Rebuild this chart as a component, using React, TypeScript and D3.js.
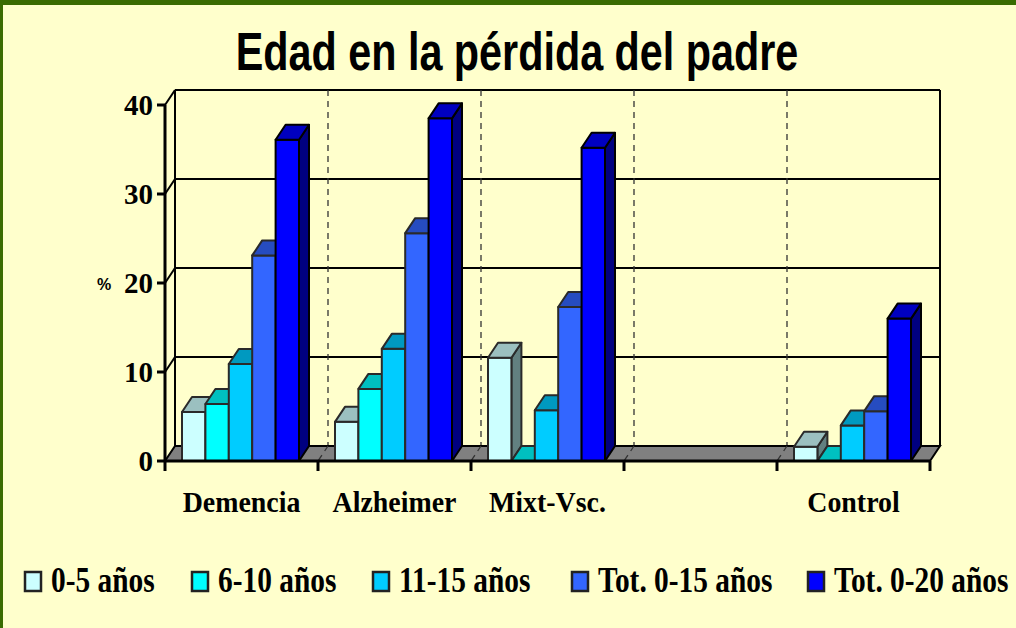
import React from 'react';
import * as d3 from 'd3';

// chart data
const categories = ['Demencia', 'Alzheimer', 'Mixt-Vsc.', '', 'Control'];
const seriesNames = ['0-5 años', '6-10 años', '11-15 años', 'Tot. 0-15 años', 'Tot. 0-20 años'];
const age0to5 = [5.5, 4.4, 11.6, null, 1.6];
const age6to10 = [6.4, 8.1, 0, null, 0];
const age11to15 = [10.9, 12.6, 5.7, null, 4.0];
const tot0to15 = [23.1, 25.6, 17.3, null, 5.6];
const tot0to20 = [36.1, 38.5, 35.2, null, 16.0];
const yTicks = [0, 10, 20, 30, 40];

const seriesValues = [age0to5, age6to10, age11to15, tot0to15, tot0to20];

// front / top / side face colours
const faceColors = [
    {front: '#CCFFFF', top: '#9BC0C0', side: '#628080'},
    {front: '#00FFFF', top: '#00C0C0', side: '#008080'},
    {front: '#00CCFF', top: '#0099C0', side: '#006A8A'},
    {front: '#3366FF', top: '#264CC0', side: '#1A3380'},
    {front: '#0000FF', top: '#0000C0', side: '#000080'},
];

const legendX = [25, 192, 373, 572, 808];

const W = 1016;
const H = 628;
const DX = 10;
const DY = -15;

const pts = (p: number[][]) => p.map(d => d.join(',')).join(' ');

const App = () => {
    const x = d3.scaleBand<number>()
        .domain(d3.range(categories.length))
        .range([165, 930])
        .padding(0);

    const y = d3.scaleLinear()
        .domain([0, 40])
        .range([461, 105]);

    const inner = d3.scaleBand<number>()
        .domain(d3.range(seriesNames.length))
        .range([17, 134])
        .padding(0);

    const y0 = y(0);
    const yTop = y(40);
    const xL = x.range()[0];
    const xR = x.range()[1];
    const boundaries = d3.range(categories.length + 1).map(i => xL + i * x.bandwidth());

    const bars: JSX.Element[] = [];
    categories.forEach((c, ci) => {
        seriesValues.forEach((vals, si) => {
            const v = vals[ci];
            if (v === null) return;
            const bx = (x(ci) as number) + (inner(si) as number);
            const bw = inner.bandwidth();
            const yt = y(v);
            const col = faceColors[si];
            const stroke = si === 4 ? '#000' : '#2a2a2a';
            bars.push(
                <g key={`${ci}-${si}`} stroke={stroke} strokeWidth={2} strokeLinejoin="round">
                    <polygon points={pts([[bx + bw, yt], [bx + bw + DX, yt + DY], [bx + bw + DX, y0 + DY], [bx + bw, y0]])} fill={col.side}/>
                    <rect x={bx} y={yt} width={bw} height={y0 - yt} fill={col.front}/>
                    <polygon points={pts([[bx, yt], [bx + bw, yt], [bx + bw + DX, yt + DY], [bx + DX, yt + DY]])} fill={col.top}/>
                </g>
            );
        });
    });

    return (
        <svg width={W} height={H} style={{position: 'fixed', left: 0, top: 0}}>
            <rect width={W} height={H} fill="#FFFFCC"/>
            <rect width={W} height={5} fill="#3A6B00"/>
            <rect width={3} height={H} fill="#3A6B00"/>

            <text transform="translate(517,70) scale(0.78,1)" textAnchor="middle"
                  fontFamily="Liberation Sans, Arial" fontWeight="bold" fontSize={53}>
                Edad en la pérdida del padre
            </text>

            {/* back wall gridlines */}
            {yTicks.filter(t => t > 0).map(t => (
                <g key={t} stroke="#000" strokeWidth={2}>
                    <line x1={xL + DX} x2={xR + DX} y1={y(t) + DY} y2={y(t) + DY}/>
                    <line x1={xL} x2={xL + DX} y1={y(t)} y2={y(t) + DY}/>
                </g>
            ))}
            <line x1={xL + DX} x2={xL + DX} y1={yTop + DY} y2={y0 + DY} stroke="#000" strokeWidth={2}/>
            <line x1={xR + DX} x2={xR + DX} y1={yTop + DY} y2={y0 + DY} stroke="#000" strokeWidth={2}/>

            {/* dashed category separators */}
            {boundaries.slice(1, -1).map((bx, i) => (
                <line key={i} x1={bx + DX} x2={bx + DX} y1={yTop + DY} y2={y0 + DY}
                      stroke="#333" strokeWidth={1.3} strokeDasharray="6,5"/>
            ))}

            {/* floor */}
            <polygon points={pts([[xL, y0], [xR, y0], [xR + DX, y0 + DY], [xL + DX, y0 + DY]])}
                     fill="#808080" stroke="#000" strokeWidth={2}/>
            {boundaries.slice(1, -1).map((bx, i) => (
                <line key={i} x1={bx + DX} x2={bx} y1={y0 + DY} y2={y0}
                      stroke="#333" strokeWidth={1.3} strokeDasharray="6,5"/>
            ))}

            {bars}

            {/* front axes */}
            <line x1={xL} x2={xL} y1={yTop} y2={y0} stroke="#000" strokeWidth={3}/>
            <line x1={xL - 1} x2={xR} y1={y0} y2={y0} stroke="#000" strokeWidth={3}/>
            {yTicks.map(t => (
                <g key={t}>
                    <line x1={xL - 8} x2={xL} y1={y(t)} y2={y(t)} stroke="#000" strokeWidth={3}/>
                    <text x={xL - 12} y={y(t)} dy="0.35em" textAnchor="end"
                          fontFamily="Liberation Serif, Times New Roman" fontWeight="bold" fontSize={29}>
                        {t}
                    </text>
                </g>
            ))}
            {boundaries.map((bx, i) => (
                <line key={i} x1={bx} x2={bx} y1={y0} y2={y0 + 10} stroke="#000" strokeWidth={3}/>
            ))}
            {categories.map((c, i) => (
                <text key={i} transform={`translate(${(x(i) as number) + x.bandwidth() / 2},512) scale(0.93,1)`}
                      textAnchor="middle" fontFamily="Liberation Serif, Times New Roman"
                      fontWeight="bold" fontSize={30}>
                    {c}
                </text>
            ))}
            <text x={104} y={290} textAnchor="middle" fontFamily="Liberation Sans, Arial"
                  fontWeight="bold" fontSize={16}>%</text>

            {/* legend */}
            {seriesNames.map((s, i) => (
                <g key={s}>
                    <rect x={legendX[i]} y={572} width={16} height={19} fill={faceColors[i].front}
                          stroke="#222" strokeWidth={2.5}/>
                    <text transform={`translate(${legendX[i] + 26},592) scale(0.84,1)`}
                          fontFamily="Liberation Serif, Times New Roman" fontWeight="bold" fontSize={35}>
                        {s}
                    </text>
                </g>
            ))}
        </svg>
    );
};

export default App;
